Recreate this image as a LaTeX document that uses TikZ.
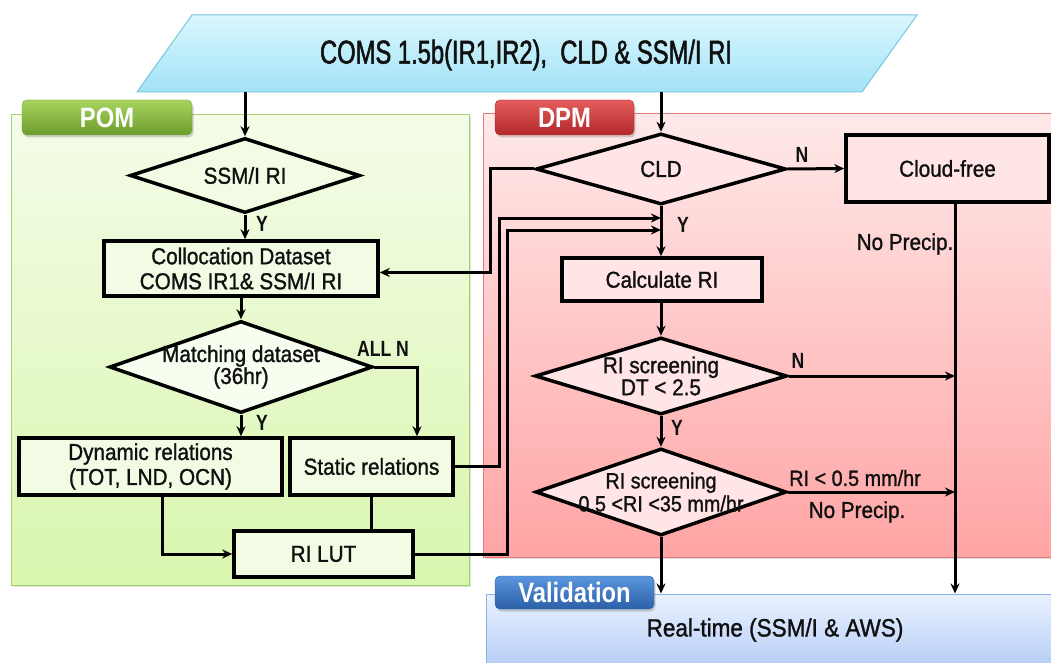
\documentclass[tikz,border=0pt]{standalone}
\usepackage{fontspec}
\setmainfont{Liberation Sans}[FakeStretch=0.9,FakeBold=1.2]
\newfontfamily\titlefont{Liberation Sans}[FakeStretch=0.72,FakeBold=1.5]
\newfontfamily\tagfont{Liberation Sans}[FakeStretch=0.85]
\newfontfamily\lblfont{Liberation Sans}[FakeStretch=0.8]
\usetikzlibrary{shapes.geometric,arrows.meta,shadows}
\definecolor{pomTop}{HTML}{F4FCE8}
\definecolor{pomBot}{HTML}{D9F6AE}
\definecolor{pomBrd}{HTML}{A5D46E}
\definecolor{dpmTop}{HTML}{FFE9E9}
\definecolor{dpmBot}{HTML}{FFA4A4}
\definecolor{dpmBrd}{HTML}{E07A7A}
\definecolor{valTop}{HTML}{EAF2FF}
\definecolor{valBot}{HTML}{B2CAF6}
\definecolor{valBrd}{HTML}{8EB0E2}
\definecolor{inTop}{HTML}{DAF7FE}
\definecolor{inBot}{HTML}{A2E3F7}
\definecolor{inBrd}{HTML}{78C6E0}
\definecolor{pomS}{HTML}{F2FBE4}
\definecolor{dpmS}{HTML}{FFE5E5}
\definecolor{pomTagT}{HTML}{A8D45E}
\definecolor{pomTagB}{HTML}{6C9C2C}
\definecolor{dpmTagT}{HTML}{E45C5C}
\definecolor{dpmTagB}{HTML}{B32828}
\definecolor{valTagT}{HTML}{5A96DE}
\definecolor{valTagB}{HTML}{2C60A8}
\definecolor{textc}{HTML}{101010}
\tikzset{
  conn/.style={line width=3pt, draw=black},
  arr/.style={conn, -{Stealth[length=10pt,width=9pt]}},
  box/.style={draw=black, line width=3.5pt, rectangle, inner sep=0pt, align=center,
    text=textc, font=\fontsize{23}{25}\selectfont},
  dia/.style={draw=black, line width=3.5pt, diamond, inner sep=0pt, aspect=1},
  txt/.style={text=textc, align=center, font=\fontsize{23}{22}\selectfont},
  lbl/.style={text=textc, font=\lblfont\bfseries\fontsize{22}{22}\selectfont},
  panel/.style={rectangle, line width=1pt, inner sep=0pt,
    drop shadow={opacity=0.25, shadow xshift=1.5pt, shadow yshift=-1.5pt}},
  tagbox/.style={rectangle, rounded corners=5pt, inner sep=0pt, text=white,
    font=\tagfont\bfseries\fontsize{28}{28}\selectfont,
    drop shadow={opacity=0.35, shadow xshift=1.5pt, shadow yshift=-2.5pt}},
}
\begin{document}
\begin{tikzpicture}[x=1pt,y=-1pt]
\useasboundingbox (0,0) rectangle (1051,663);
\clip (0,0) rectangle (1051,663);
\fill[white] (0,0) rectangle (1051,663);

% panels
\node[panel, draw=pomBrd, top color=pomTop, bottom color=pomBot,
  minimum width=458, minimum height=470] (pom) at (240,350) {};
\node[panel, draw=dpmBrd, top color=dpmTop, bottom color=dpmBot,
  minimum width=573, minimum height=443] (dpm) at (769.5,335.5) {};
\node[panel, draw=valBrd, top color=valTop, bottom color=valBot,
  minimum width=572, minimum height=80] (val) at (772,634) {};
\node[txt, font=\fontsize{25}{25}\selectfont] (rt) at (775,630) {Real-time (SSM/I \& AWS)};

% input parallelogram
\path[draw=inBrd, line width=1pt, top color=inTop, bottom color=inBot]
  (192,15) -- (917,15) -- (862,92) -- (137,92) -- cycle;
\node[text=textc, font=\titlefont\fontsize{33}{33}\selectfont] (input) at (526,55)
  {COMS 1.5b(IR1,IR2),\ \ CLD \& SSM/I RI};
\coordinate (inA) at (245,92);
\coordinate (inB) at (661,92);

% tags
\node[tagbox, draw=pomTagB, top color=pomTagT, bottom color=pomTagB,
  minimum width=170, minimum height=35] (pomtag) at (107,117.5) {POM};
\node[tagbox, draw=dpmTagB, top color=dpmTagT, bottom color=dpmTagB,
  minimum width=139, minimum height=35] (dpmtag) at (564.5,117.5) {DPM};
\node[tagbox, draw=valTagB, top color=valTagT, bottom color=valTagB,
  minimum width=159, minimum height=33] (valtag) at (574.5,592.5) {Validation};

% POM nodes
\node[dia, fill=pomS, minimum width=230, minimum height=75] (ssm) at (245,175.5) {};
\node[txt] at (ssm) {SSM/I RI};
\node[box, fill=pomS, minimum width=274, minimum height=55] (coll) at (241,268.5)
  {Collocation Dataset\\COMS IR1\& SSM/I RI};
\node[dia, fill=pomS!60!white, minimum width=263, minimum height=92] (match) at (241,367) {};
\node[txt] at (match) {Matching dataset\\(36hr)};
\node[box, fill=pomS, minimum width=263, minimum height=57] (dyn) at (150.5,466.5)
  {Dynamic relations\\(TOT, LND, OCN)};
\node[box, fill=pomS, minimum width=163, minimum height=57] (stat) at (371.5,466.5)
  {Static relations};
\node[box, fill=pomS, minimum width=179, minimum height=46] (lut) at (323.5,554) {RI LUT};

% DPM nodes
\node[dia, fill=dpmS, minimum width=250, minimum height=71] (cld) at (661,169) {};
\node[txt] at (cld) {CLD};
\node[box, fill=dpmS, minimum width=203, minimum height=67] (cf) at (947.5,168.5) {Cloud-free};
\node[box, fill=dpmS, minimum width=200, minimum height=43] (calc) at (662,279.5) {Calculate RI};
\node[dia, fill=dpmS, minimum width=252, minimum height=77] (s1) at (661,376) {};
\node[txt] at (s1) {RI screening\\DT < 2.5};
\node[dia, fill=dpmS, minimum width=251, minimum height=87] (s2) at (661,492) {};
\node[txt, font=\fontsize{22}{23}\selectfont] at (s2) {RI screening\\0.5 <RI <35 mm/hr};

\coordinate (j1) at (661,218);
\coordinate (j2) at (661,230);
\coordinate (cfs) at ([xshift=7.5pt]cf.south);

% labels
\node[lbl] (yA) at (262,224) {Y};
\node[lbl] (yB) at (262,423) {Y};
\node[lbl] (alln) at (383,349) {ALL N};
\node[lbl] (nA) at (802,155) {N};
\node[lbl] (yC) at (683,225) {Y};
\node[lbl] (nB) at (798,361) {N};
\node[lbl] (yD) at (677,428) {Y};
\node[txt] (np1) at (905,244) {No Precip.};
\node[txt, font=\fontsize{22}{22}\selectfont] (rilt) at (855,478) {RI < 0.5 mm/hr};
\node[txt] (np2) at (857,512) {No Precip.};

% connectors
\draw[arr] (inA) -- (ssm.north);
\draw[arr] (inB) -- (cld.north);
\draw[arr] (ssm.south) -- (ssm.south |- coll.north);
\draw[arr] (match.north |- coll.south) -- (match.north);
\draw[arr] (match.south) -- (match.south |- dyn.north);
\draw[arr] (match.east) -| ([xshift=45.5pt]stat.north);
\draw[arr] ([xshift=11.5pt]dyn.south) |- (lut.west);
\draw[conn] (stat.south) -- (stat.south |- lut.north);
\draw[arr] (stat.east) -- ++(45,0) |- (j1);
\draw[arr] (lut.east) -- ++(93,0) |- (j2);
\draw[arr] (cld.west) -- ++(-44,0) |- ([yshift=-4pt]coll.east);
\draw[arr] (cld.east) -- (cf.west);
\draw[arr] (cld.south) -- (cld.south |- calc.north);
\draw[arr] (s1.north |- calc.south) -- (s1.north);
\draw[arr] (s1.south) -- (s2.north);
\draw[arr] (s1.east) -- (s1.east -| cfs);
\draw[arr] (s2.east) -- (s2.east -| cfs);
\draw[arr] (cfs) -- (cfs |- val.north);
\draw[arr] (s2.south) -- (s2.south |- val.north);
\end{tikzpicture}
\end{document}
